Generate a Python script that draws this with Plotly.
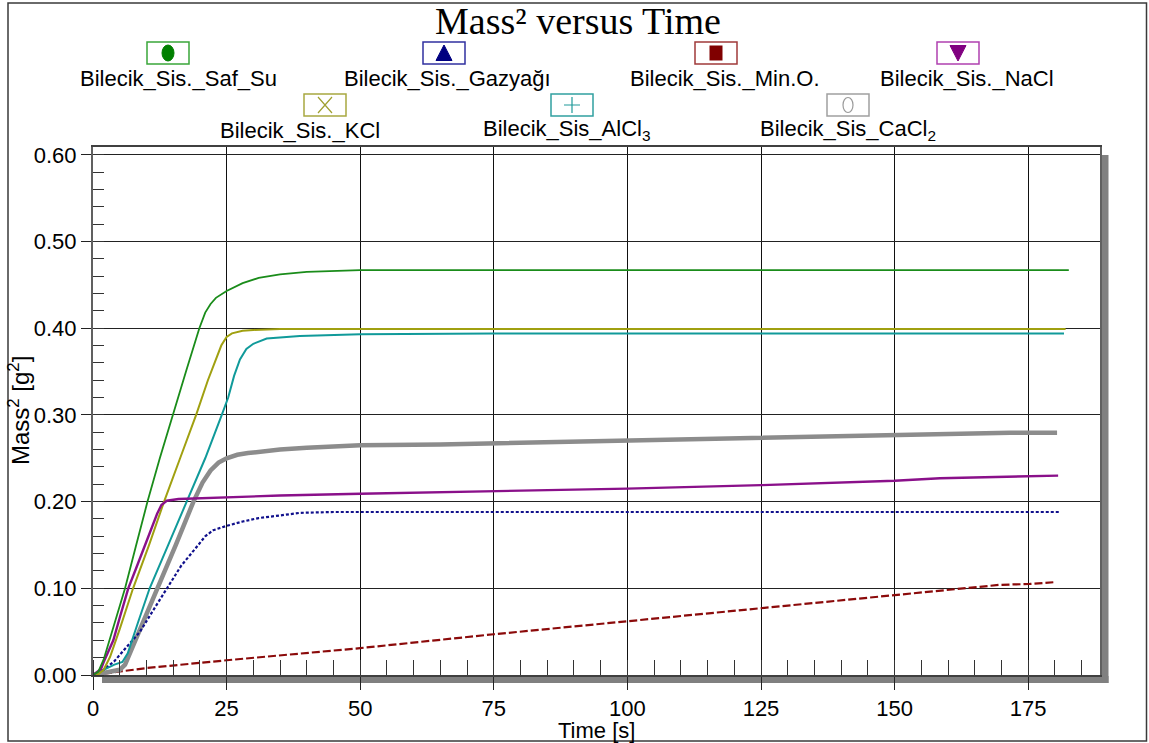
import plotly.graph_objects as go

# ---- measured series: time [s] and squared mass [g^2] ----
t_saf_su = [0, 1, 2, 3, 4, 6, 8, 10.2, 12.5, 14.9, 17.5, 19.9, 21, 22, 23, 25, 28, 31, 35, 40, 45, 50, 75, 100, 125, 150, 182.6]
m_saf_su = [0, 0.004, 0.018, 0.038, 0.058, 0.1, 0.148, 0.2, 0.25, 0.3, 0.352, 0.4, 0.418, 0.428, 0.435, 0.443, 0.452, 0.458, 0.462, 0.465, 0.466, 0.467, 0.467, 0.467, 0.467, 0.467, 0.467]

t_gazyagi = [0, 2, 4, 6, 8.8, 11, 13.8, 16.5, 19.7, 21, 22.5, 25, 28, 31, 35, 38.7, 45, 50, 75, 100, 125, 150, 180.8]
m_gazyagi = [0, 0.006, 0.016, 0.03, 0.05, 0.072, 0.1, 0.126, 0.15, 0.16, 0.167, 0.172, 0.177, 0.181, 0.184, 0.187, 0.188, 0.188, 0.188, 0.188, 0.188, 0.188, 0.188]

t_min_o = [0, 1.5, 5, 10, 15, 20, 25, 50, 75, 100, 125, 150, 160.4, 166.6, 169.7, 175.3, 179.7]
m_min_o = [0, 0.001, 0.004, 0.008, 0.011, 0.014, 0.017, 0.031, 0.047, 0.062, 0.077, 0.092, 0.098, 0.102, 0.104, 0.105, 0.107]

t_nacl = [0, 1.5, 2, 3, 3.8, 5, 6.6, 8, 10, 12, 12.8, 13.8, 16, 20, 25, 35, 50, 75, 100, 125, 150, 158.5, 171, 178, 180.6]
m_nacl = [0, 0.007, 0.015, 0.028, 0.04, 0.066, 0.1, 0.122, 0.154, 0.186, 0.196, 0.201, 0.203, 0.204, 0.205, 0.207, 0.209, 0.212, 0.215, 0.219, 0.224, 0.227, 0.229, 0.23, 0.23]

t_kcl = [0, 1, 2, 3.2, 5, 7.5, 10.5, 13.3, 16.3, 19.3, 21.5, 23, 24, 25, 26, 28, 30, 35, 50, 100, 150, 182]
m_kcl = [0, 0.001, 0.006, 0.021, 0.053, 0.1, 0.15, 0.2, 0.25, 0.3, 0.34, 0.365, 0.38, 0.39, 0.394, 0.397, 0.398, 0.399, 0.399, 0.399, 0.399, 0.399]

t_alcl3 = [0, 2, 4, 5.5, 6.5, 8.5, 10.6, 14, 17.5, 21, 24.1, 25.3, 26.4, 27.5, 28.7, 30, 32.5, 38.7, 50, 75, 100, 125, 150, 181.7]
m_alcl3 = [0, 0.006, 0.012, 0.015, 0.025, 0.062, 0.1, 0.149, 0.2, 0.25, 0.3, 0.32, 0.345, 0.364, 0.376, 0.382, 0.388, 0.391, 0.393, 0.394, 0.394, 0.394, 0.394, 0.394]

t_cacl2 = [0, 2, 4, 5, 6, 6.9, 9, 12, 15.5, 18.8, 20.5, 22, 23.5, 25, 27, 29, 32, 35, 40, 50, 65, 80, 100, 115, 130, 145, 162, 171.6, 180.4]
m_cacl2 = [0, 0.002, 0.004, 0.006, 0.012, 0.025, 0.055, 0.1, 0.15, 0.2, 0.222, 0.236, 0.245, 0.25, 0.254, 0.256, 0.258, 0.26, 0.262, 0.265, 0.266, 0.268, 0.27, 0.272, 0.274, 0.276, 0.278, 0.2795, 0.2795]

series_names = [
    "Bilecik_Sis._Saf_Su",
    "Bilecik_Sis._Gazyağı",
    "Bilecik_Sis._Min.O.",
    "Bilecik_Sis._NaCl",
    "Bilecik_Sis._KCl",
    "Bilecik_Sis_AlCl<sub>3</sub>",
    "Bilecik_Sis_CaCl<sub>2</sub>",
]

x_tick_step = 25
y_tick_step = 0.1

# ---- page geometry (pixels) ----
W, H = 1149, 743
PL, PR, PT, PB = 93, 1100, 147, 675   # plot area edges
FONT = "Liberation Sans, Arial, sans-serif"
FS = 22


def px(x):
    return (x - PL) / (PR - PL)


def py(y):
    return (PB - y) / (PB - PT)


series = dict(zip(series_names, [
    (t_saf_su, m_saf_su),
    (t_gazyagi, m_gazyagi),
    (t_min_o, m_min_o),
    (t_nacl, m_nacl),
    (t_kcl, m_kcl),
    (t_alcl3, m_alcl3),
    (t_cacl2, m_cacl2),
]))

line_styles = [
    dict(color="#1a8c1a", width=1.8),
    dict(color="#10108c", width=2.2, dash="3px,2px"),
    dict(color="#8b0a0a", width=2.2, dash="8px,3px"),
    dict(color="#8a108a", width=2.4),
    dict(color="#a0a010", width=2),
    dict(color="#109a9a", width=2),
    dict(color="#8c8c8c", width=4.5),
]
line_style = dict(zip(series_names, line_styles))

# bottom-most first
draw_order = [2, 6, 1, 5, 4, 3, 0]

fig = go.Figure()
for i in draw_order:
    name = series_names[i]
    t, m = series[name]
    fig.add_trace(go.Scatter(x=t, y=m, mode="lines", name=name,
                             line=line_style[name], showlegend=False,
                             hoverinfo="skip"))

shapes = []
annotations = []

# drop shadow to the right of and below the plot frame
shapes.append(dict(type="rect", xref="paper", yref="paper",
                   x0=px(PR), x1=px(PR + 8.5), y0=py(PB + 8), y1=py(PT + 8),
                   fillcolor="#808080", line=dict(width=0), layer="below"))
shapes.append(dict(type="rect", xref="paper", yref="paper",
                   x0=px(PL + 9), x1=px(PR + 8.5), y0=py(PB + 8), y1=py(PB + 1),
                   fillcolor="#808080", line=dict(width=0), layer="below"))

# outer frame of the chart
shapes.append(dict(type="rect", xref="paper", yref="paper",
                   x0=px(8), x1=px(1146.5), y0=py(741), y1=py(3),
                   line=dict(color="#3a3a3a", width=1.5), fillcolor="rgba(0,0,0,0)"))

# ---- legend keys: box centre, label centre, box colour, symbol, symbol colour ----
legend_keys = [
    (168, 53, 178, 78, "#3aa63a", "ellipse_fill", "#008000"),
    (444, 53, 447, 78, "#3030a0", "tri_up", "#000080"),
    (716, 53, 725, 78, "#a03a3a", "square", "#800000"),
    (958, 53, 967, 78, "#b040b0", "tri_down", "#800080"),
    (325, 105, 300, 130, "#a8a840", "cross_x", "#a0a030"),
    (572, 105, 567, 130, "#30a0a0", "plus", "#209a9a"),
    (848, 105, 848, 130, "#a0a0a0", "ellipse_open", "#9a9a9a"),
]

BW, BH = 42, 22
for name, (bx, by, lx, ly, bcol, sym, scol) in zip(series_names, legend_keys):
    shapes.append(dict(type="rect", xref="paper", yref="paper",
                       x0=px(bx - BW / 2), x1=px(bx + BW / 2),
                       y0=py(by + BH / 2), y1=py(by - BH / 2),
                       line=dict(color=bcol, width=1.5), fillcolor="white"))
    if sym == "ellipse_fill":
        shapes.append(dict(type="circle", xref="paper", yref="paper",
                           x0=px(bx - 6), x1=px(bx + 6), y0=py(by + 8), y1=py(by - 8),
                           fillcolor=scol, line=dict(color=scol, width=1)))
    elif sym == "ellipse_open":
        shapes.append(dict(type="circle", xref="paper", yref="paper",
                           x0=px(bx - 5), x1=px(bx + 5), y0=py(by + 7.5), y1=py(by - 7.5),
                           fillcolor="rgba(0,0,0,0)", line=dict(color=scol, width=1.2)))
    elif sym == "square":
        shapes.append(dict(type="rect", xref="paper", yref="paper",
                           x0=px(bx - 6.5), x1=px(bx + 6.5), y0=py(by + 7.5), y1=py(by - 7.5),
                           fillcolor=scol, line=dict(width=0)))
    elif sym == "tri_up":
        path = "M {} {} L {} {} L {} {} Z".format(px(bx - 8), py(by + 7.5), px(bx + 8), py(by + 7.5),
                                               px(bx), py(by - 8))
        shapes.append(dict(type="path", xref="paper", yref="paper", path=path,
                           fillcolor=scol, line=dict(color=scol, width=1)))
    elif sym == "tri_down":
        path = "M {} {} L {} {} L {} {} Z".format(px(bx - 8), py(by - 7.5), px(bx + 8), py(by - 7.5),
                                               px(bx), py(by + 8))
        shapes.append(dict(type="path", xref="paper", yref="paper", path=path,
                           fillcolor=scol, line=dict(color=scol, width=1)))
    elif sym == "cross_x":
        path = "M {} {} L {} {} M {} {} L {} {}".format(
            px(bx - 7), py(by - 8), px(bx + 7), py(by + 8),
            px(bx - 7), py(by + 8), px(bx + 7), py(by - 8))
        shapes.append(dict(type="path", xref="paper", yref="paper", path=path,
                           line=dict(color=scol, width=1.2)))
    elif sym == "plus":
        path = "M {} {} L {} {} M {} {} L {} {}".format(
            px(bx - 8), py(by), px(bx + 8), py(by),
            px(bx), py(by - 8), px(bx), py(by + 8))
        shapes.append(dict(type="path", xref="paper", yref="paper", path=path,
                           line=dict(color=scol, width=1.2)))
    annotations.append(dict(text=name, xref="paper", yref="paper",
                            x=px(lx), y=py(ly), xanchor="center", yanchor="middle",
                            showarrow=False, font=dict(family=FONT, size=FS, color="black")))

# axis titles
annotations.append(dict(text="Time [s]", xref="paper", yref="paper",
                        x=0.5, y=py(730), xanchor="center", yanchor="middle",
                        showarrow=False, font=dict(family=FONT, size=FS, color="black")))
annotations.append(dict(text="Mass<sup>2</sup> [g<sup>2</sup>]", xref="paper", yref="paper",
                        x=px(19), y=0.5, xanchor="center", yanchor="middle", textangle=-90,
                        showarrow=False, font=dict(family=FONT, size=24, color="black")))

fig.update_layout(
    width=W, height=H,
    margin=dict(l=PL, r=W - PR, t=PT, b=H - PB, pad=0),
    paper_bgcolor="white", plot_bgcolor="white",
    title=dict(text="Mass² versus Time", x=578 / W, xref="container", xanchor="center",
               y=1 - 21 / H, yref="container", yanchor="middle",
               font=dict(family="Liberation Serif, Times New Roman, serif", size=38, color="black")),
    shapes=shapes,
    annotations=annotations,
    showlegend=False,
    hovermode=False,
)

fig.update_xaxes(
    range=[0, (PR - PL) / 5.344], tickmode="linear", tick0=0, dtick=x_tick_step,
    showgrid=True, gridcolor="#111111", gridwidth=1,
    ticks="outside", ticklen=13, tickwidth=1, tickcolor="#222222",
    tickfont=dict(family=FONT, size=FS, color="black"),
    showline=True, linecolor="#404040", linewidth=1.5, mirror=True, zeroline=False,
    minor=dict(tickmode="linear", tick0=0, dtick=5, ticks="inside", ticklen=15,
               tickwidth=1, tickcolor="#333333", showgrid=False),
)
fig.update_yaxes(
    range=[0, 0.609], tickmode="linear", tick0=0, dtick=y_tick_step, tickformat=".2f",
    showgrid=True, gridcolor="#222222", gridwidth=1,
    ticks="outside", ticklen=10, tickwidth=1, tickcolor="#222222",
    tickfont=dict(family=FONT, size=FS, color="black"),
    showline=True, linecolor="#606060", linewidth=2, mirror=True, zeroline=False,
    minor=dict(tickmode="linear", tick0=0, dtick=0.02, ticks="inside", ticklen=11,
               tickwidth=1, tickcolor="#333333", showgrid=False),
)

fig.write_html("out.html")
